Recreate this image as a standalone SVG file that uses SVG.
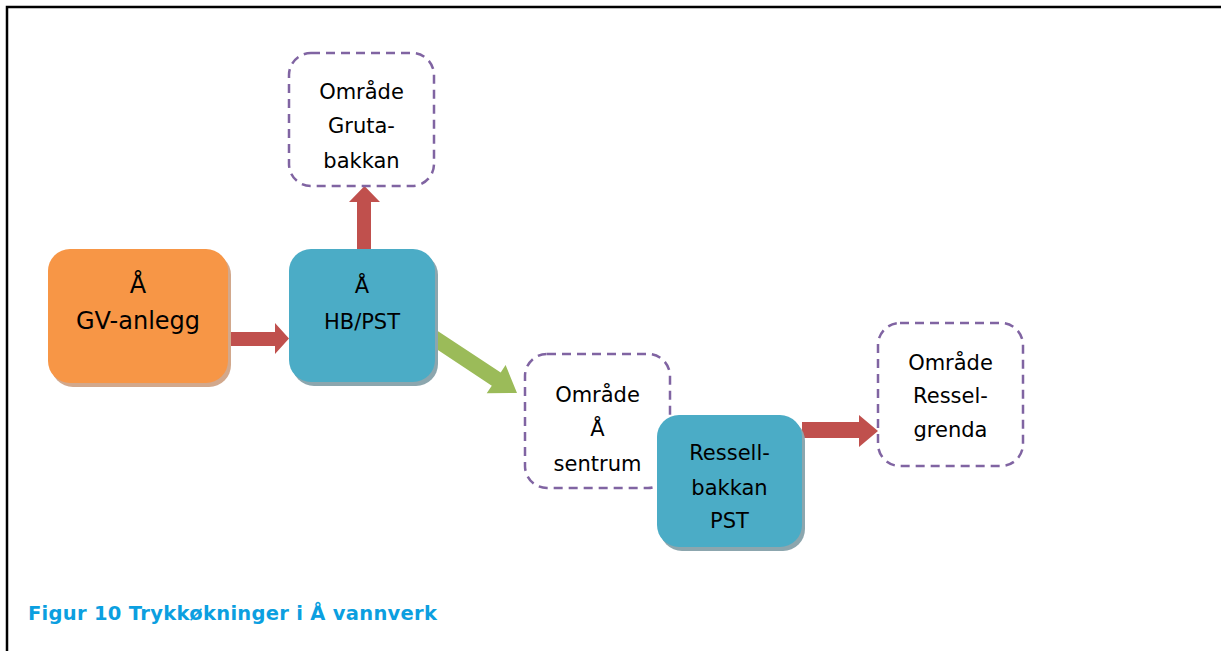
<svg xmlns="http://www.w3.org/2000/svg" width="1221" height="651" viewBox="0 0 1221 651">
<style>
text{font-family:"DejaVu Sans","Verdana",sans-serif;fill:#000;text-anchor:middle}
.t{font-size:21px}
.big{font-size:24px}
.dash{fill:#fff;stroke:#8064a2;stroke-width:2.5;stroke-dasharray:9 6}
.teal{fill:#4bacc6}
.tealsh{fill:#8ca6ae}
.orange{fill:#f79646}
.orsh{fill:#d2a88c}
.red{fill:#c0504d}
.green{fill:#9bbb59}
.cap{font-size:19.5px;font-weight:bold;fill:#0b9fe0;text-anchor:start}
</style>
<rect x="0" y="0" width="1221" height="651" fill="#fff"/>
<path d="M7 651 V7 H1221" fill="none" stroke="#000" stroke-width="2.5"/>

<g id="connectors">
<polygon class="red" points="228,332 275,332 275,323 289,338.5 275,354 275,346 228,346"/>
<polygon class="red" points="357,249 357,202 349,202 364.5,186 380,202 371,202 371,249"/>
<polygon class="green" points="432.4,327.4 500.7,372.5 505.6,365 517,393 486.7,393.2 491.8,385.7 423.6,340.6"/>
<polygon class="red" points="802,422 859,422 859,415 878,431 859,447 859,438 802,438"/>
</g>

<g id="gruta">
<rect class="dash" x="289" y="53" width="145" height="133" rx="22"/>
<text class="t" x="361.5" y="99">Område</text>
<text class="t" x="361.5" y="133">Gruta-</text>
<text class="t" x="361.5" y="168">bakkan</text>
</g>

<g id="gv">
<rect class="orsh" x="51" y="253" width="180" height="134" rx="22"/>
<rect class="orange" x="48" y="249" width="180" height="134" rx="22"/>
<text class="big" x="138" y="293">Å</text>
<text class="big" x="138" y="329">GV-anlegg</text>
</g>

<g id="hb">
<rect class="tealsh" x="292" y="253" width="146" height="133" rx="22"/>
<rect class="teal" x="289" y="249" width="146" height="133" rx="22"/>
<text class="t" x="362" y="293">Å</text>
<text class="t" x="362" y="329">HB/PST</text>
</g>

<g id="sentrum">
<rect class="dash" x="525" y="354" width="145" height="134" rx="22"/>
<text class="t" x="597.5" y="402">Område</text>
<text class="t" x="597.5" y="436">Å</text>
<text class="t" x="597.5" y="471">sentrum</text>
</g>

<g id="ressellbakkan">
<rect class="tealsh" x="660" y="419" width="145" height="132" rx="22"/>
<rect class="teal" x="657" y="415" width="145" height="132" rx="22"/>
<text class="t" x="729.5" y="460">Ressell-</text>
<text class="t" x="729.5" y="495">bakkan</text>
<text class="t" x="729.5" y="528">PST</text>
</g>

<g id="resselgrenda">
<rect class="dash" x="878" y="323" width="145" height="143" rx="22"/>
<text class="t" x="950.5" y="370">Område</text>
<text class="t" x="950.5" y="403">Ressel-</text>
<text class="t" x="950.5" y="437">grenda</text>
</g>

<text class="cap" x="28" y="620" textLength="409" lengthAdjust="spacing">Figur 10 Trykkøkninger i Å vannverk</text>
</svg>
